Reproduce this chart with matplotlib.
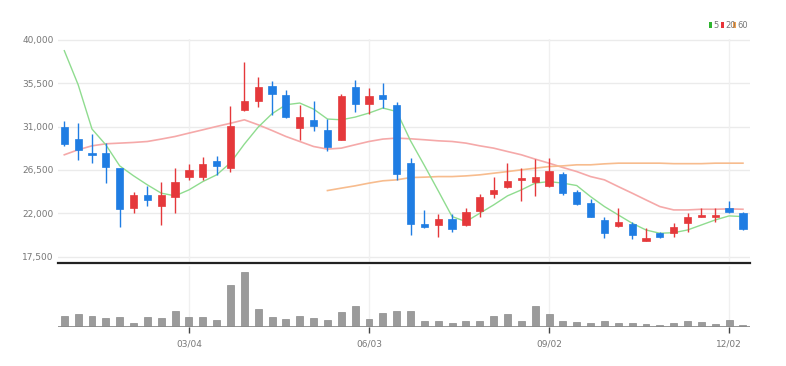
import matplotlib
matplotlib.use("Agg")
import matplotlib.pyplot as plt
from matplotlib.patches import Rectangle
import numpy as np

# ---------------- data ----------------
opens = [31000, 29700, 28300, 28240, 26680, 22530, 23880, 22800, 23730, 25750,
         25810, 27440, 26680, 32670, 33680, 35160, 34230, 30840, 31700, 30660,
         29620, 35060, 33330, 34230, 33190, 27200, 20870, 20790, 21420, 20790,
         22280, 24010, 24770, 25470, 25290, 24880, 26060, 24250, 23050, 21310,
         20720, 20900, 19160, 19930, 19930, 20970, 21660, 21660, 22530, 22010]
highs = [31530, 31360, 30220, 29280, 26700, 24250, 24880, 25290, 26680, 27100,
         27890, 27960, 33090, 37660, 36100, 35680, 34820, 33260, 33600, 31780,
         34400, 35790, 35000, 35520, 33500, 27720, 22350, 21910, 21910, 22530,
         24010, 25810, 27200, 26680, 27620, 27720, 26330, 24430, 23460, 21660,
         22530, 21140, 20450, 20100, 20970, 22070, 22530, 22530, 23290, 22110]
lows = [29000, 27550, 27200, 25130, 20550, 22010, 22800, 20790, 22010, 25470,
        25470, 25990, 26330, 32600, 33020, 32220, 31880, 29620, 30490, 28510,
        29600, 32460, 32330, 32920, 25470, 19750, 20450, 19520, 20040, 20720,
        21660, 23570, 24610, 23320, 23810, 24770, 23910, 22870, 21590, 19410,
        20620, 19310, 19100, 19410, 19580, 20100, 21590, 21140, 22010, 20310]
closes = [29210, 28590, 28030, 26790, 22420, 23910, 23390, 23910, 25290, 26510,
          27100, 26920, 31080, 33600, 35060, 34370, 31980, 31980, 31010, 28870,
          34120, 33330, 34200, 33860, 26060, 20870, 20620, 21390, 20380, 22110,
          23730, 24430, 25400, 25710, 25810, 26440, 24090, 22980, 21660, 19990,
          21140, 19750, 19410, 19580, 20620, 21590, 21830, 21870, 22180, 20410]
volumes = [34, 39, 34, 27, 29, 12, 29, 27, 47, 29, 29, 22, 127, 164, 54, 29, 24, 32, 27, 22,
           44, 64, 24, 42, 49, 49, 17, 17, 12, 17, 17, 34, 39, 19, 62, 39, 19, 14, 12, 17,
           12, 12, 9, 5, 12, 17, 14, 9, 22, 7]
volumes = [v * 10000 for v in volumes]

ma5 = [38870, 35340, 30740, 29100, 26920, 25890, 24950, 24090, 23810, 24430,
       25290, 25990, 27240, 29180, 30940, 32330, 33260, 33440, 32810, 31780,
       31700, 31980, 32400, 32920, 32560, 29520, 26960, 24330, 21660, 21140,
       22010, 22870, 23810, 24430, 25130, 25290, 25130, 24880, 23730, 22700,
       21830, 20970, 20270, 19930, 19990, 20270, 20790, 21310, 21730, 21660]
ma20 = [28070, 28590, 29000, 29210, 29280, 29350, 29450, 29700, 29970, 30320,
        30660, 31010, 31340, 31700, 31180, 30590, 29970, 29450, 28930, 28660,
        28760, 29110, 29450, 29700, 29800, 29730, 29630, 29520, 29450, 29280,
        29000, 28760, 28410, 28070, 27620, 27200, 26750, 26330, 25810, 25470,
        24770, 24090, 23390, 22700, 22350, 22350, 22420, 22420, 22460, 22420]
ma60 = [None] * 19 + [24360, 24610, 24850, 25130, 25370, 25470, 25710, 25750, 25810, 25810,
                      25880, 25990, 26160, 26330, 26510, 26680, 26850, 26920, 27030, 27030,
                      27130, 27200, 27200, 27200, 27200, 27150, 27150, 27150, 27200, 27200, 27200]

xtick_idx = [9, 22, 35, 48]
xtick_labels = ["03/04", "06/03", "09/02", "12/02"]
ytick_vals = [17500, 22000, 26500, 31000, 35500, 40000]
legend_labels = ["5", "20", "60"]

# ---------------- style ----------------
RED = "#e5383b"
BLUE = "#1f7de3"
C_MA5 = "#8fdc8f"
C_MA20 = "#f5a9a9"
C_MA60 = "#f7bc8e"
TXT = "#777777"
W, H = 786, 366

plt.rcParams['font.family'] = ['Liberation Sans Narrow', 'DejaVu Sans']

fig = plt.figure(figsize=(W / 100, H / 100), dpi=100)

def fx(px):
    return px / W

def fy(py):
    return 1 - py / H

x_left, x_right = 58, 750
ax = fig.add_axes([fx(x_left), fy(263), fx(x_right - x_left), fy(39.3) - fy(263)])
axv = fig.add_axes([fx(x_left), fy(327), fx(x_right - x_left), fy(266) - fy(327)], sharex=ax)

n = len(opens)
idx = np.arange(n)
xlim = (-0.455, 49.51)

# grid
for v in ytick_vals:
    ax.axhline(v, color="#ebebeb", lw=1, zorder=0)
for i in xtick_idx:
    ax.axvline(i, color="#f0f0f0", lw=1, zorder=0)

# MA lines
ax.plot(idx, ma20, color=C_MA20, lw=1.2, zorder=1)
ma60_x = [i for i, v in enumerate(ma60) if v is not None]
ma60_y = [v for v in ma60 if v is not None]
ax.plot(ma60_x, ma60_y, color=C_MA60, lw=1.2, zorder=1)
ax.plot(idx, ma5, color=C_MA5, lw=1.0, zorder=1)

# candles
bw = 0.52
for i in range(n):
    o, h, l, c = opens[i], highs[i], lows[i], closes[i]
    col = RED if c >= o else BLUE
    ax.vlines(i, l, h, color=col, lw=1.0, zorder=2)
    bot = min(o, c)
    ht = max(abs(c - o), 120)
    ax.add_patch(Rectangle((i - bw / 2, bot), bw, ht, facecolor=col, edgecolor=col, lw=0.5, zorder=3))

ax.set_xlim(*xlim)
ax.set_ylim(16845, 40050)
ax.set_yticks(ytick_vals)
ax.set_yticklabels([f"{v:,}" for v in ytick_vals])
ax.tick_params(axis="y", length=0, pad=3, labelsize=6.5, labelcolor=TXT)
ax.tick_params(axis="x", length=0, labelbottom=False)
for s in ["top", "right", "left"]:
    ax.spines[s].set_visible(False)
ax.spines["bottom"].set_color("#222222")
ax.spines["bottom"].set_linewidth(1.6)

# volume
for i in xtick_idx:
    axv.axvline(i, color="#f0f0f0", lw=1, zorder=0)
axv.bar(idx, volumes, width=0.5, color="#9b9b9b", edgecolor="#8a8a8a", lw=0.5, zorder=2)
axv.set_ylim(0, max(volumes) * 61.0 / 54.7)
axv.axhline(0, color="#8c8c8c", lw=2, zorder=3)
for s in ["top", "right", "left", "bottom"]:
    axv.spines[s].set_visible(False)
axv.set_yticks([])
axv.set_xticks(xtick_idx)
axv.set_xticklabels(xtick_labels)
axv.tick_params(axis="x", length=4, width=1, color="#444444", pad=5, labelsize=6.5, labelcolor=TXT, direction="out")
axv.set_xlim(*xlim)

# legend (top right)
leg_items = [(709, "#2fb52f", legend_labels[0], 713),
             (721, "#e8343a", legend_labels[1], 725),
             (732.5, "#f5a04a", legend_labels[2], 737)]
for sx, col, lab, tx in leg_items:
    fig.patches.append(Rectangle((fx(sx), fy(27.5)), fx(3), fy(22.5) - fy(27.5), facecolor=col,
                                 edgecolor="none", transform=fig.transFigure, figure=fig))
    fig.text(fx(tx), fy(25), lab, fontsize=6, color=TXT, va="center", ha="left")

fig.savefig("out.png", dpi=100)
